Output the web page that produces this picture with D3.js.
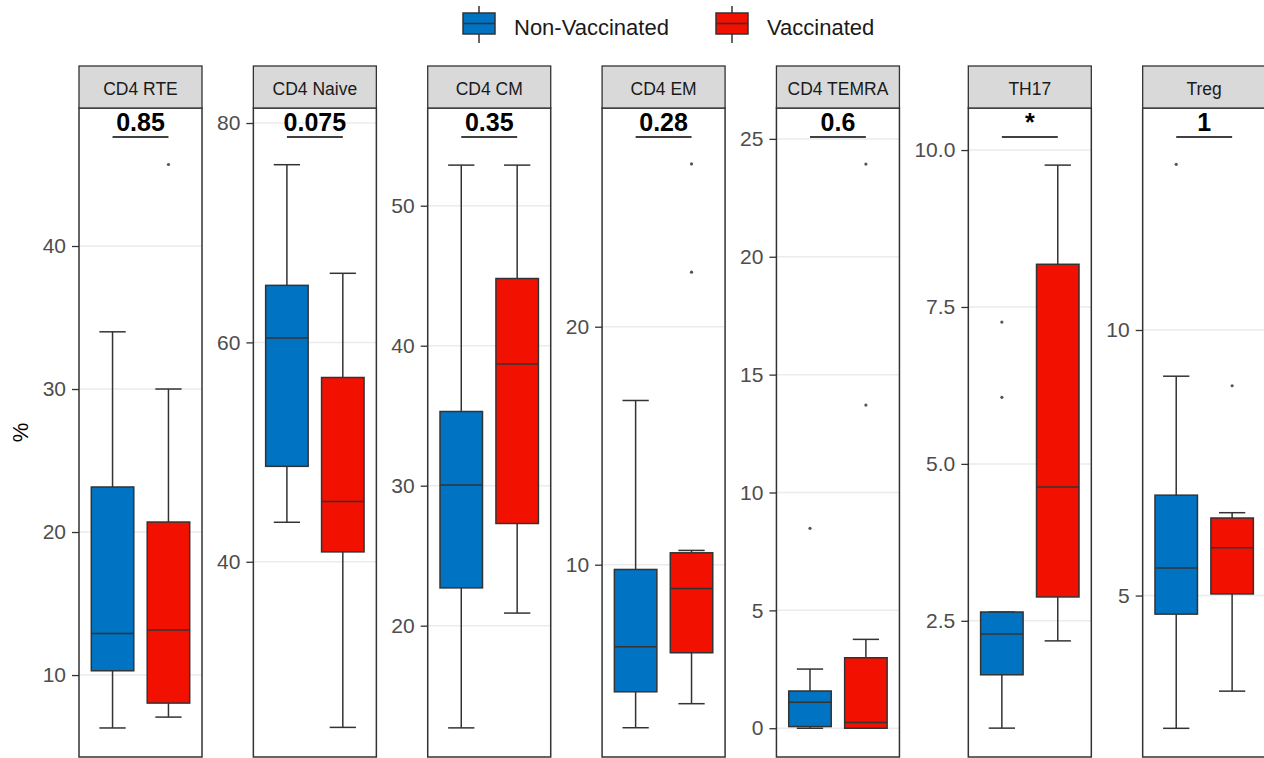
<!DOCTYPE html>
<html>
<head>
<meta charset="utf-8">
<script src="https://cdn.jsdelivr.net/npm/d3@7"></script>
<style>
  body { margin: 0; background: #fff; }
  text { font-family: "Liberation Sans", Arial, sans-serif; }
</style>
</head>
<body>
<svg id="chart" width="1264" height="758"></svg>
<script>
// data
const panels = ['CD4 RTE', 'CD4 Naive', 'CD4 CM', 'CD4 EM', 'CD4 TEMRA', 'TH17', 'Treg'];
const pLabels = ['0.85', '0.075', '0.35', '0.28', '0.6', '*', '1'];
const groups = ['Non-Vaccinated', 'Vaccinated'];

// [lower whisker, q1, median, q3, upper whisker]
const nonVacStats = [
  [6.3, 10.3, 12.9, 23.15, 34.0],
  [43.6, 48.7, 60.4, 65.2, 76.2],
  [12.7, 22.7, 30.05, 35.3, 52.9],
  [3.15, 4.66, 6.55, 9.8, 16.9],
  [0.0, 0.07, 1.1, 1.58, 2.51],
  [0.79, 1.64, 2.29, 2.64, 2.64],
  [2.5, 4.65, 5.52, 6.89, 9.13]
];
const vacStats = [
  [7.06, 8.04, 13.15, 20.7, 30.0],
  [24.9, 40.9, 45.5, 56.8, 66.3],
  [20.9, 27.3, 38.7, 44.8, 52.9],
  [4.16, 6.3, 9.0, 10.5, 10.6],
  [0.0, 0.0, 0.24, 2.99, 3.77],
  [2.18, 2.88, 4.63, 8.18, 9.76],
  [3.2, 5.03, 5.9, 6.46, 6.56]
];
const nonVacOutliers = [[], [], [], [], [8.48], [7.26, 6.06], [13.12]];
const vacOutliers = [[45.7], [], [], [26.84, 22.29], [23.93, 13.71], [], [8.95]];

// visible y range of each panel and its tick labels
const yRanges = [[4.27, 49.65], [22.2, 81.37], [10.62, 56.98], [1.92, 29.19], [-1.22, 26.31], [0.33, 10.67], [1.96, 14.18]];
const yTickLabels = [
  ['10', '20', '30', '40'],
  ['40', '60', '80'],
  ['20', '30', '40', '50'],
  ['10', '20'],
  ['0', '5', '10', '15', '20', '25'],
  ['2.5', '5.0', '7.5', '10.0'],
  ['5', '10']
];

const colours = ['#0073C2', '#F21100'];
const stripTop = 66, panelTop = 108, panelBottom = 757, panelW = 123;
const dark = '#333333';

const svg = d3.select('#chart');

// measure tick labels so panels are spaced like facet_wrap with free y
const meas = svg.append('text').style('font-size', '21px');
const textW = s => { meas.text(s); return meas.node().getComputedTextLength(); };
const lefts = [];
panels.forEach((p, i) => {
  if (i === 0) lefts.push(79);
  else lefts.push(lefts[i - 1] + panelW + d3.max(yTickLabels[i], textW) + 28);
});
meas.remove();

panels.forEach((name, i) => {
  const left = lefts[i];
  const y = d3.scaleLinear().domain(yRanges[i]).range([panelBottom, panelTop]);
  const x = d3.scalePoint().domain(groups).range([left, left + panelW]).padding(0.6);
  const step = x.step();
  const ticks = yTickLabels[i].map(Number);
  const g = svg.append('g');

  // grid
  g.selectAll('.grid').data(ticks).enter().append('line')
    .attr('x1', left).attr('x2', left + panelW)
    .attr('y1', d => y(d)).attr('y2', d => y(d))
    .attr('stroke', '#EBEBEB').attr('stroke-width', 1.5);

  // axis
  const axis = d3.axisLeft(y)
    .tickValues(ticks)
    .tickSize(7)
    .tickPadding(6)
    .tickFormat((d, k) => yTickLabels[i][k]);
  const ax = g.append('g').attr('transform', `translate(${left},0)`).call(axis);
  ax.select('.domain').remove();
  ax.selectAll('.tick line').attr('stroke', dark).attr('stroke-width', 1.3);
  ax.selectAll('.tick text').attr('fill', '#4D4D4D').style('font-size', '21px');

  // boxes
  [nonVacStats[i], vacStats[i]].forEach((s, k) => {
    const cx = x(groups[k]);
    const bw = step * 0.76, cw = step * 0.47;
    const [lo, q1, med, q3, hi] = s;
    g.append('line').attr('x1', cx).attr('x2', cx).attr('y1', y(hi)).attr('y2', y(q3))
      .attr('stroke', dark).attr('stroke-width', 1.5);
    g.append('line').attr('x1', cx).attr('x2', cx).attr('y1', y(q1)).attr('y2', y(lo))
      .attr('stroke', dark).attr('stroke-width', 1.5);
    [hi, lo].forEach(v => {
      g.append('line').attr('x1', cx - cw / 2).attr('x2', cx + cw / 2)
        .attr('y1', y(v)).attr('y2', y(v))
        .attr('stroke', dark).attr('stroke-width', 1.5);
    });
    g.append('rect')
      .attr('x', cx - bw / 2).attr('width', bw)
      .attr('y', y(q3)).attr('height', y(q1) - y(q3))
      .attr('fill', colours[k]).attr('stroke', dark).attr('stroke-width', 1.5);
    g.append('line').attr('x1', cx - bw / 2).attr('x2', cx + bw / 2)
      .attr('y1', y(med)).attr('y2', y(med))
      .attr('stroke', dark).attr('stroke-width', 1.5);
    const outs = k === 0 ? nonVacOutliers[i] : vacOutliers[i];
    g.selectAll(null).data(outs).enter().append('circle')
      .attr('cx', cx).attr('cy', d => y(d)).attr('r', 1.6)
      .attr('fill', '#555');
  });

  // p value bracket
  g.append('line')
    .attr('x1', x(groups[0])).attr('x2', x(groups[1]))
    .attr('y1', 137).attr('y2', 137)
    .attr('stroke', '#000').attr('stroke-width', 1.6);
  g.append('text')
    .attr('x', (x(groups[0]) + x(groups[1])) / 2).attr('y', 131)
    .attr('text-anchor', 'middle')
    .style('font-size', '25px').style('font-weight', 'bold')
    .text(pLabels[i]);

  // panel border
  g.append('rect')
    .attr('x', left).attr('y', panelTop).attr('width', panelW).attr('height', panelBottom - panelTop)
    .attr('fill', 'none').attr('stroke', dark).attr('stroke-width', 1.5);

  // strip
  g.append('rect')
    .attr('x', left).attr('y', stripTop).attr('width', panelW).attr('height', panelTop - stripTop)
    .attr('fill', '#D9D9D9').attr('stroke', dark).attr('stroke-width', 1.3);
  g.append('text')
    .attr('x', left + panelW / 2).attr('y', 95)
    .attr('text-anchor', 'middle')
    .attr('fill', '#1A1A1A')
    .style('font-size', '17.5px')
    .text(name);
});

// y title
svg.append('text')
  .attr('transform', `translate(28,${(panelTop + panelBottom) / 2}) rotate(-90)`)
  .attr('text-anchor', 'middle')
  .style('font-size', '22px')
  .text('%');

// legend
const legendX = [463, 716];
groups.forEach((name, k) => {
  const lx = legendX[k];
  const lg = svg.append('g');
  lg.append('line').attr('x1', lx + 16).attr('x2', lx + 16).attr('y1', 6).attr('y2', 43)
    .attr('stroke', dark).attr('stroke-width', 1.5);
  lg.append('rect').attr('x', lx).attr('y', 13).attr('width', 32).attr('height', 21)
    .attr('fill', colours[k]).attr('stroke', dark).attr('stroke-width', 1.5);
  lg.append('line').attr('x1', lx).attr('x2', lx + 32).attr('y1', 23.5).attr('y2', 23.5)
    .attr('stroke', dark).attr('stroke-width', 1.5);
  lg.append('text').attr('x', lx + 51).attr('y', 35)
    .attr('fill', '#1A1A1A')
    .style('font-size', '22px')
    .text(name);
});
</script>
</body>
</html>
